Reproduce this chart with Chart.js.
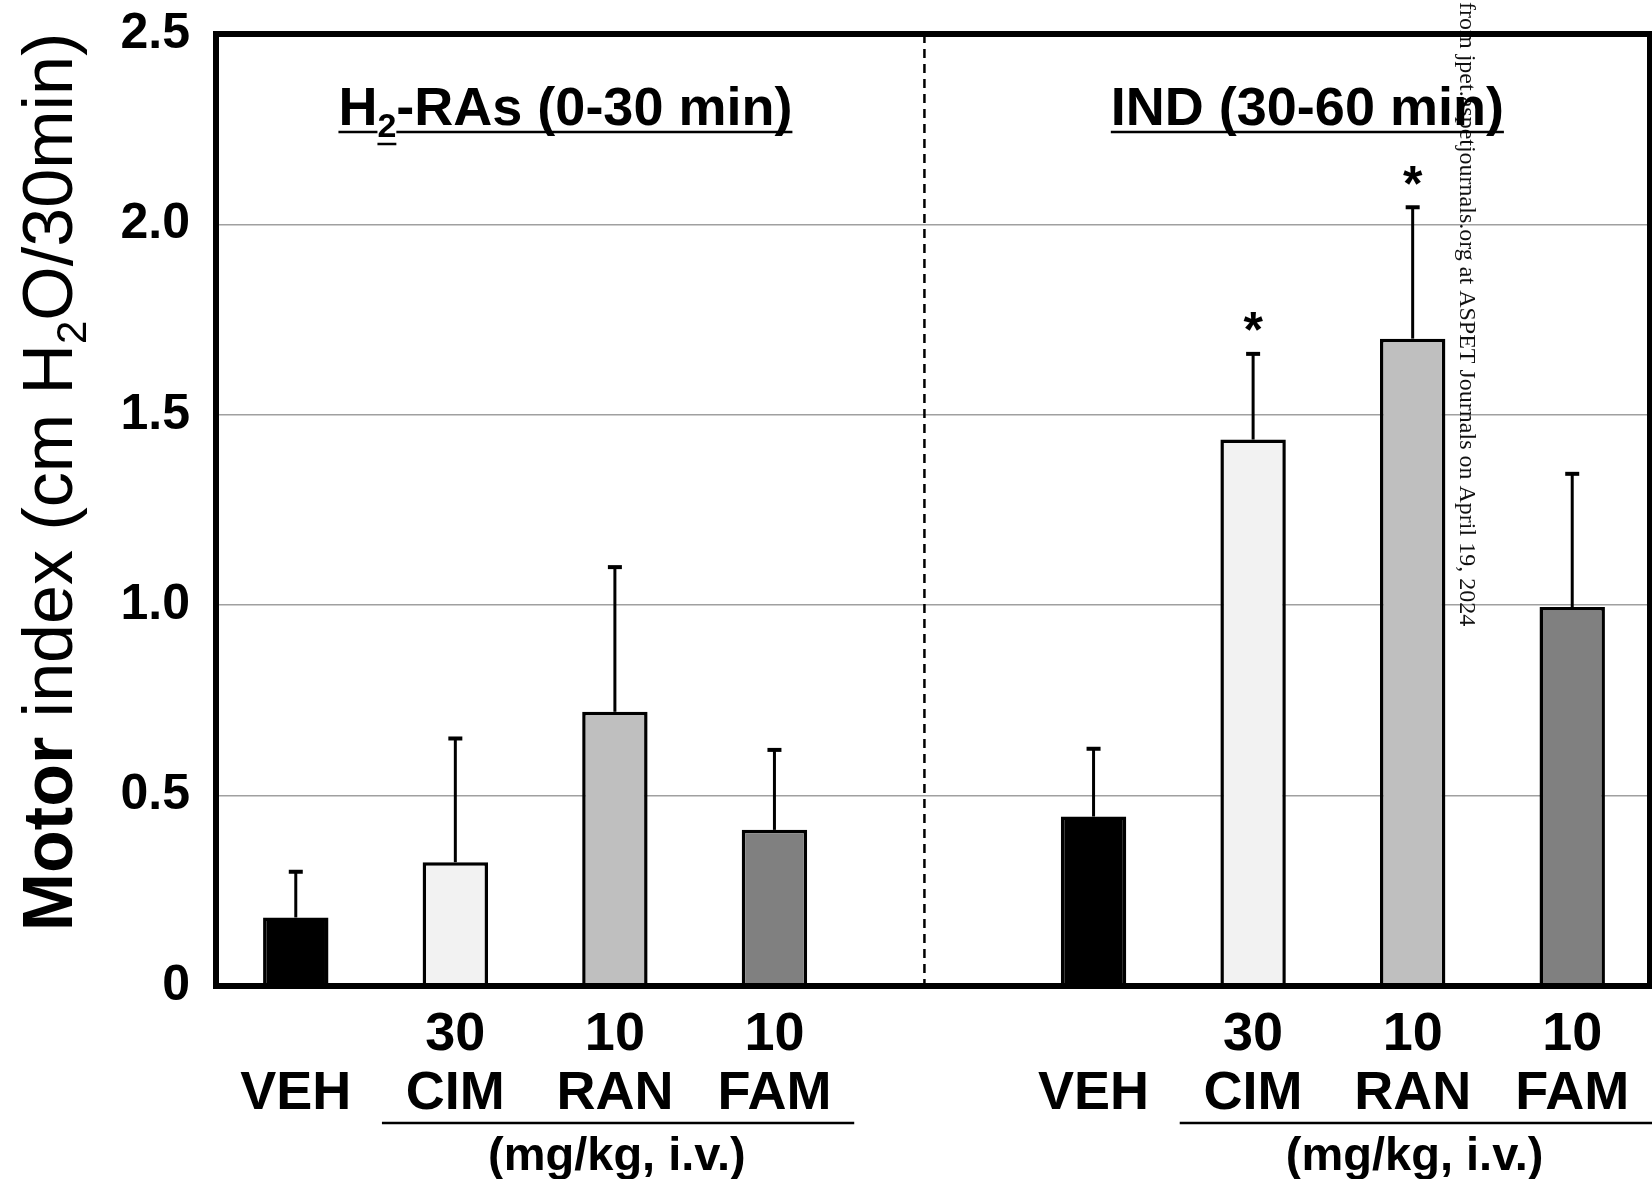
<!DOCTYPE html>
<html>
<head>
<meta charset="utf-8">
<script src="https://cdn.jsdelivr.net/npm/chart.js@4/dist/chart.umd.min.js"></script>
<style>
  html, body { margin: 0; padding: 0; background: #ffffff; }
  #wrap { width: 1652px; height: 1179px; }
</style>
</head>
<body>
<div id="wrap"><canvas id="c" width="1652" height="1179"></canvas></div>
<script>
// ---- data ----
const doses = ['', '30', '10', '10', '', '', '30', '10', '10'];
const drugs = ['VEH', 'CIM', 'RAN', 'FAM', '', 'VEH', 'CIM', 'RAN', 'FAM'];
const means = [0.18, 0.325, 0.72, 0.41, null, 0.445, 1.435, 1.70, 0.995];
const sems  = [0.12, 0.325, 0.38, 0.21, null, 0.178, 0.225, 0.345, 0.35];
const significant = [false, false, false, false, false, false, true, true, false];
const yTickLabels = ['0', '0.5', '1.0', '1.5', '2.0', '2.5'];
const groupTitles = ['H\u2082-RAs (0-30 min)', 'IND (30-60 min)'];
const doseUnit = '(mg/kg, i.v.)';
const yTitle = 'Motor index (cm H\u2082O/30min)';
const watermark = 'from jpet.aspetjournals.org at ASPET Journals on April 19, 2024';

// ---- styles ----
const barColors = ['#000000', '#f2f2f2', '#bfbfbf', '#808080', '#ffffff', '#000000', '#f2f2f2', '#bfbfbf', '#808080'];
const SANS = "'Liberation Sans', Arial, sans-serif";
const SERIF = "'Liberation Serif', 'Times New Roman', serif";

const labels = doses.map((d, i) => (drugs[i] === '' ? '' : [d, drugs[i]]));

const overlay = {
  id: 'overlay',
  afterDatasetsDraw(chart) {
    const ctx = chart.ctx;
    const xs = chart.scales.x, ys = chart.scales.y;
    ctx.save();
    ctx.strokeStyle = '#000';
    ctx.fillStyle = '#000';
    for (let i = 0; i < means.length; i++) {
      if (means[i] === null) continue;
      const x = xs.getPixelForValue(i);
      const yb = ys.getPixelForValue(means[i]);
      const yt = ys.getPixelForValue(means[i] + sems[i]);
      ctx.lineWidth = 3;
      ctx.beginPath(); ctx.moveTo(x, yb); ctx.lineTo(x, yt); ctx.stroke();
      ctx.lineWidth = 4;
      ctx.beginPath(); ctx.moveTo(x - 7, yt); ctx.lineTo(x + 7, yt); ctx.stroke();
      if (significant[i]) {
        ctx.font = 'bold 50px ' + SANS;
        ctx.textAlign = 'center';
        ctx.textBaseline = 'alphabetic';
        ctx.fillText('*', x, yt - 35 + 0.57 * 50);
      }
    }
    ctx.restore();
  },
  afterDraw(chart) {
    const ctx = chart.ctx;
    const a = chart.chartArea;
    const xs = chart.scales.x;
    ctx.save();
    ctx.strokeStyle = '#000';
    ctx.fillStyle = '#000';

    // watermark
    ctx.save();
    ctx.translate(1460, 2);
    ctx.rotate(Math.PI / 2);
    ctx.font = '24px ' + SERIF;
    ctx.fillStyle = '#111';
    ctx.textAlign = 'left'; ctx.textBaseline = 'alphabetic';
    ctx.fillText(watermark, 0, 0);
    ctx.restore();

    // dashed separator
    const xd = xs.getPixelForValue(3.94);
    ctx.setLineDash([9, 6]);
    ctx.lineWidth = 2.5;
    ctx.beginPath(); ctx.moveTo(xd, a.top); ctx.lineTo(xd, a.bottom); ctx.stroke();
    ctx.setLineDash([]);

    // frame
    ctx.lineWidth = 6;
    ctx.beginPath();
    ctx.moveTo(a.left, a.bottom); ctx.lineTo(a.left, a.top); ctx.lineTo(a.right - 2, a.top);
    ctx.lineTo(a.right - 2, a.bottom); ctx.closePath(); ctx.stroke();

    // group titles (underlined)
    const drawGroupTitle = (parts, cx, base) => {
      const big = 'bold 54px ' + SANS, small = 'bold 34px ' + SANS;
      let total = 0;
      parts.forEach(p => { ctx.font = p.sub ? small : big; p.w = ctx.measureText(p.t).width; total += p.w; });
      let x = cx - total / 2;
      ctx.textAlign = 'left'; ctx.textBaseline = 'alphabetic';
      parts.forEach(p => {
        ctx.font = p.sub ? small : big;
        const dy = p.sub ? 12 : 0;
        ctx.fillText(p.t, x, base + dy);
        ctx.lineWidth = 2.5;
        ctx.beginPath(); ctx.moveTo(x, base + dy + 7); ctx.lineTo(x + p.w, base + dy + 7); ctx.stroke();
        x += p.w;
      });
    };
    drawGroupTitle([{t: 'H'}, {t: '2', sub: true}, {t: '-RAs (0-30 min)'}], xs.getPixelForValue(1.69), 125);
    drawGroupTitle([{t: groupTitles[1]}], xs.getPixelForValue(6.34), 125);

    // dose underline + unit
    [[1, 3], [6, 8]].forEach(([s, e]) => {
      const x1 = xs.getPixelForValue(s - 0.46), x2 = xs.getPixelForValue(e + 0.5);
      ctx.lineWidth = 2.5;
      ctx.beginPath(); ctx.moveTo(x1, 1123); ctx.lineTo(x2, 1123); ctx.stroke();
      ctx.font = 'bold 47px ' + SANS;
      ctx.textAlign = 'center'; ctx.textBaseline = 'middle';
      ctx.fillText(doseUnit, (xs.getPixelForValue(s) + xs.getPixelForValue(e)) / 2 + 2, 1157);
    });

    // y-axis title (rotated)
    const fs = 70;
    const tparts = [
      {t: 'Motor', f: 'bold ' + fs + 'px ' + SANS, dy: 0},
      {t: ' index (cm H', f: fs + 'px ' + SANS, dy: 0},
      {t: '2', f: Math.round(fs * 0.6) + 'px ' + SANS, dy: fs * 0.2},
      {t: 'O/30min)', f: fs + 'px ' + SANS, dy: 0}
    ];
    let tot = 0;
    tparts.forEach(p => { ctx.font = p.f; p.w = ctx.measureText(p.t).width; tot += p.w; });
    ctx.save();
    ctx.translate(72, 482);
    ctx.rotate(-Math.PI / 2);
    ctx.textAlign = 'left'; ctx.textBaseline = 'alphabetic';
    let tx = -tot / 2;
    tparts.forEach(p => { ctx.font = p.f; ctx.fillText(p.t, tx, p.dy); tx += p.w; });
    ctx.restore();

    ctx.restore();
  }
};

new Chart(document.getElementById('c'), {
  type: 'bar',
  data: {
    labels: labels,
    datasets: [{
      data: means,
      backgroundColor: barColors,
      borderColor: '#000000',
      borderWidth: 3.5,
      barPercentage: 0.41,
      categoryPercentage: 1.0
    }]
  },
  options: {
    responsive: false,
    animation: false,
    devicePixelRatio: 1,
    layout: { padding: { top: 34, left: 0, right: 0, bottom: 0 } },
    plugins: { legend: { display: false }, tooltip: { enabled: false } },
    scales: {
      x: {
        type: 'category',
        grid: { display: false },
        border: { display: false },
        ticks: {
          font: { family: SANS, size: 54, weight: 'bold', lineHeight: 1.1 },
          color: '#000',
          padding: 11,
          maxRotation: 0,
          autoSkip: false
        },
        afterFit(s) { s.height = 193; s.paddingLeft = 0; s.paddingRight = 0; }
      },
      y: {
        min: 0,
        max: 2.5,
        grid: { color: '#a0a0a0', lineWidth: 1.5, drawTicks: false },
        border: { display: false },
        ticks: {
          stepSize: 0.5,
          font: { family: SANS, size: 50, weight: 'bold' },
          color: '#000',
          padding: 26,
          callback: (v, i) => yTickLabels[i]
        },
        afterFit(s) { s.width = 216; s.paddingTop = 0; s.paddingBottom = 0; }
      }
    }
  },
  plugins: [overlay]
});
</script>
</body>
</html>
